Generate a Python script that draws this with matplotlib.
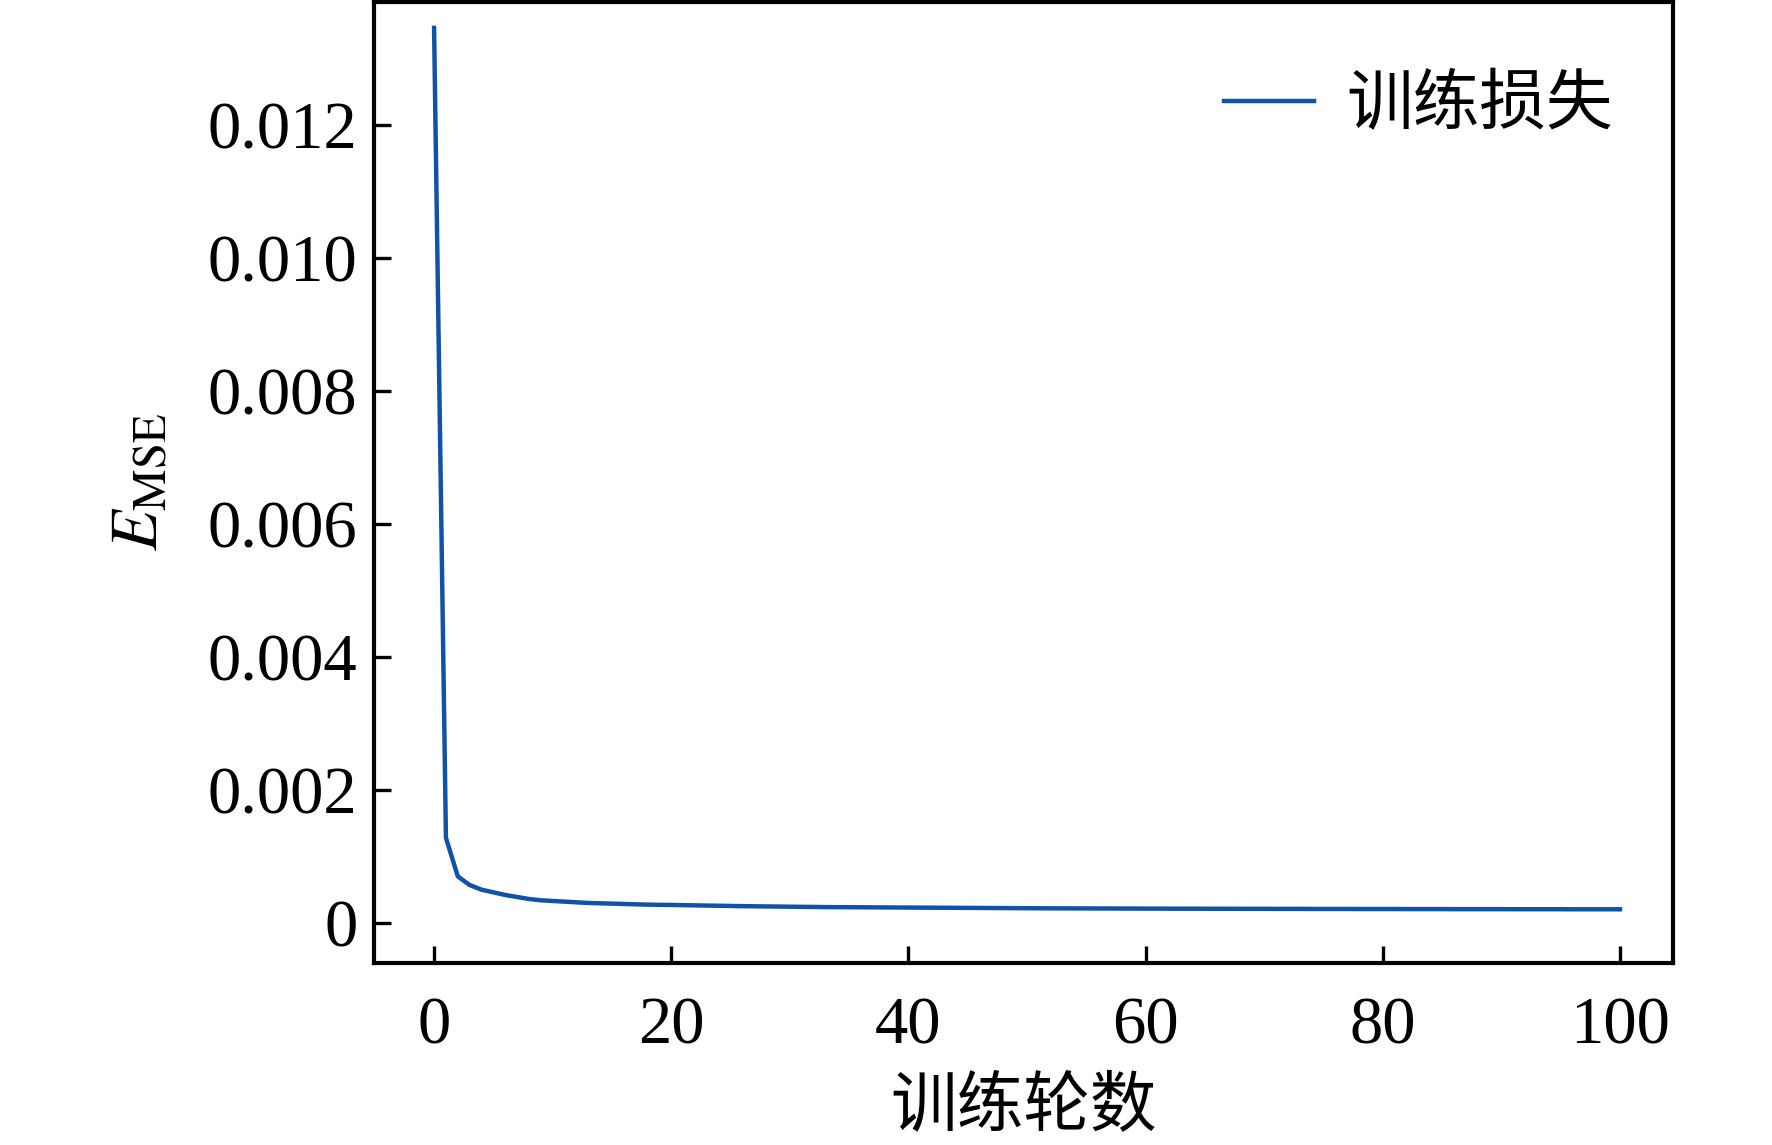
import numpy as np
import matplotlib
matplotlib.use("Agg")
import matplotlib.pyplot as plt
from matplotlib.ticker import FuncFormatter

plt.rcParams['font.family'] = ['Liberation Serif', 'Noto Sans CJK SC']
plt.rcParams['mathtext.fontset'] = 'stix'
plt.rcParams['axes.unicode_minus'] = False

# training loss per epoch
epochs = list(range(101))
train_loss = [
    0.01346, 0.00128, 0.00070, 0.00057, 0.00050, 0.00046, 0.00042, 0.00039, 0.00036, 0.00034,
    0.00033, 0.00032, 0.00031, 0.00030, 0.000295, 0.00029, 0.000285, 0.00028, 0.000275, 0.000272,
    0.00027, 0.000267, 0.000264, 0.000261, 0.000258, 0.000255, 0.000252, 0.00025, 0.000248, 0.000246,
    0.000244, 0.000242, 0.00024, 0.000238, 0.000237, 0.000236, 0.000235, 0.000234, 0.000233, 0.000232,
    0.000231, 0.00023, 0.000229, 0.000228, 0.000227, 0.000226, 0.000225, 0.000224, 0.000223, 0.000222,
    0.000221, 0.00022, 0.000219, 0.000219, 0.000218, 0.000218, 0.000217, 0.000217, 0.000216, 0.000216,
    0.000215, 0.000215, 0.000214, 0.000214, 0.000214, 0.000213, 0.000213, 0.000213, 0.000212, 0.000212,
    0.000212, 0.000211, 0.000211, 0.000211, 0.00021, 0.00021, 0.00021, 0.00021, 0.000209, 0.000209,
    0.000209, 0.000209, 0.000208, 0.000208, 0.000208, 0.000208, 0.000207, 0.000207, 0.000207, 0.000207,
    0.000207, 0.000206, 0.000206, 0.000206, 0.000206, 0.000206, 0.000205, 0.000205, 0.000205, 0.000205,
    0.000205,
]
x_ticks = [0, 20, 40, 60, 80, 100]
y_ticks = [0, 0.002, 0.004, 0.006, 0.008, 0.010, 0.012]

fig = plt.figure(figsize=(8.86, 5.725), dpi=200)
ax = fig.add_axes([0.2111, 0.1590, 0.7330, 0.8393])

ax.plot(epochs, train_loss, color='#1052a6', linewidth=1.6, label='训练损失')

ax.set_xlim(-5.06, 104.47)
ax.set_ylim(-0.000602, 0.01385)
ax.set_xticks(x_ticks)
ax.set_yticks(y_ticks)
ax.yaxis.set_major_formatter(FuncFormatter(lambda v, p: '0' if abs(v) < 1e-12 else f'{v:.3f}'))

ax.tick_params(axis='both', direction='in', length=6, width=1.2, labelsize=24)
ax.tick_params(axis='x', pad=12)
ax.tick_params(axis='y', pad=6)
for s in ax.spines.values():
    s.set_linewidth(1.5)

ax.set_xlabel('训练轮数', fontsize=24, labelpad=7)
ax.set_ylabel(r'$E_{\mathrm{MSE}}$', fontsize=24, labelpad=13)

ax.legend(loc='upper right', bbox_to_anchor=(1.0, 0.985), frameon=False, fontsize=24,
          handlelength=1.35, handletextpad=0.48)

fig.savefig('out.png', dpi=200)
